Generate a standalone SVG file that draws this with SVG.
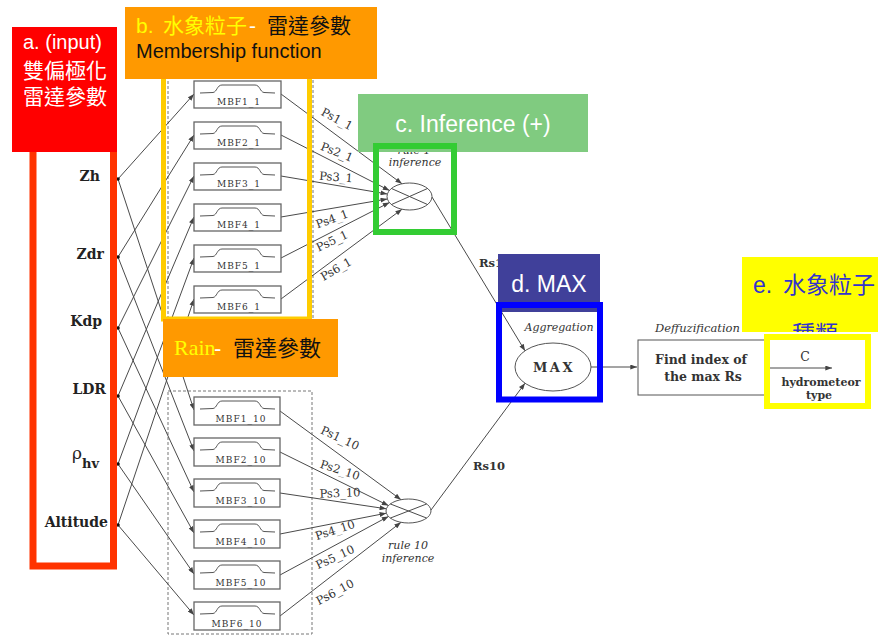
<svg xmlns="http://www.w3.org/2000/svg" width="884" height="636" viewBox="0 0 884 636">
  <style>
    .ln { stroke: #4a4a4a; stroke-width: 1; fill: none; }
    .ar { marker-end: url(#ah); }
    .mbf rect { fill: #fff; stroke: #666; stroke-width: 1.3; }
    .mbf text { font-family: "DejaVu Serif", serif; font-size: 9px; letter-spacing: 1px; fill: #333; text-anchor: middle; }
    .inp { font-family: "DejaVu Serif", serif; font-weight: bold; font-size: 14px; fill: #222; text-anchor: end; }
    .ps { font-family: "DejaVu Serif", serif; font-size: 11.5px; fill: #333; text-anchor: middle; }
    .it { font-family: "DejaVu Serif", serif; font-style: italic; font-size: 11px; fill: #333; text-anchor: middle; }
    .bd { font-family: "DejaVu Serif", serif; font-weight: bold; fill: #333; }
    .dash { fill: none; stroke: #777; stroke-width: 1; stroke-dasharray: 3 2; }
    .op { fill: #fff; stroke: #555; stroke-width: 1; }
    .ann { font-family: "Liberation Sans", "Noto Sans CJK TC", sans-serif; }
    .frame { fill: none; }
  </style>
  <defs>
    <marker id="ah" viewBox="0 0 8 6" refX="8" refY="3" markerWidth="7" markerHeight="5" orient="auto" markerUnits="userSpaceOnUse">
      <path d="M0,0 L8,3 L0,6 z" fill="#444"/>
    </marker>
    <!-- trapezoidal membership curve drawn inside each MBF box -->
    <path id="curve" d="M6,12 L19,11.5 C23,11 23,4 28,4 L61,4 C66,4 66,11 70,11.5 L81,12" fill="none" stroke="#555" stroke-width="1"/>
    <clipPath id="clipE"><rect x="742" y="257" width="136" height="75"/></clipPath>
  </defs>

  <rect width="884" height="636" fill="#fff"/>

  <!-- membership-function group frames -->
  <rect class="dash" x="168" y="70" width="145" height="252"/>
  <rect class="dash" x="168" y="391" width="144" height="243"/>

  <!-- connectors -->
  <g id="connectors">
    <!-- inputs to rule-1 membership functions -->
    <line class="ln ar" x1="118" y1="179" x2="194" y2="94"/>
    <line class="ln ar" x1="118" y1="257" x2="194" y2="135"/>
    <line class="ln ar" x1="118" y1="328" x2="194" y2="176"/>
    <line class="ln ar" x1="118" y1="396" x2="194" y2="217"/>
    <line class="ln ar" x1="118" y1="464" x2="194" y2="258"/>
    <line class="ln ar" x1="118" y1="525" x2="194" y2="299"/>
    <!-- inputs to rule-10 membership functions -->
    <line class="ln ar" x1="118" y1="179" x2="194" y2="410"/>
    <line class="ln ar" x1="118" y1="257" x2="194" y2="451"/>
    <line class="ln ar" x1="118" y1="328" x2="194" y2="492"/>
    <line class="ln ar" x1="118" y1="396" x2="194" y2="533"/>
    <line class="ln ar" x1="118" y1="464" x2="194" y2="574"/>
    <line class="ln ar" x1="118" y1="525" x2="194" y2="615"/>
    <!-- membership outputs to rule 1 -->
    <line class="ln ar" x1="281" y1="94" x2="402" y2="183.8"/>
    <line class="ln ar" x1="281" y1="135" x2="389.5" y2="190.5"/>
    <line class="ln ar" x1="281" y1="176" x2="387.3" y2="194"/>
    <line class="ln ar" x1="281" y1="217" x2="387.3" y2="199"/>
    <line class="ln ar" x1="281" y1="258" x2="389.5" y2="202.5"/>
    <line class="ln ar" x1="281" y1="299" x2="402" y2="209.2"/>
    <!-- membership outputs to rule 10 -->
    <line class="ln ar" x1="280" y1="411" x2="401" y2="499.7"/>
    <line class="ln ar" x1="280" y1="452" x2="388.5" y2="505.6"/>
    <line class="ln ar" x1="280" y1="493" x2="386.3" y2="508.8"/>
    <line class="ln ar" x1="280" y1="534" x2="386.3" y2="513.2"/>
    <line class="ln ar" x1="280" y1="575" x2="388.5" y2="516.4"/>
    <line class="ln ar" x1="280" y1="616" x2="401" y2="522.3"/>
    <!-- rule strengths to aggregation -->
    <line class="ln ar" x1="432" y1="197" x2="525" y2="350.8"/>
    <line class="ln ar" x1="431" y1="510" x2="525" y2="383.2"/>
    <!-- aggregation to defuzzification to output -->
    <line class="ln ar" x1="591" y1="367" x2="637" y2="367"/>
    <line class="ln ar" x1="770" y1="368" x2="832" y2="368"/>

    <!-- connector labels -->
    <g class="ps">
      <text transform="translate(337,119) rotate(28)" y="4">Ps1_1</text>
      <text transform="translate(337,152) rotate(22)" y="4">Ps2_1</text>
      <text transform="translate(336,177) rotate(4)" y="4">Ps3_1</text>
      <text transform="translate(332,219) rotate(-20)" y="4">Ps4_1</text>
      <text transform="translate(332,241) rotate(-25)" y="4">Ps5_1</text>
      <text transform="translate(336,269) rotate(-30)" y="4">Ps6_1</text>
      <text transform="translate(340,438) rotate(25)" y="4">Ps1_10</text>
      <text transform="translate(340,470) rotate(18)" y="4">Ps2_10</text>
      <text transform="translate(340,493) rotate(-2)" y="4">Ps3_10</text>
      <text transform="translate(335,530) rotate(-18)" y="4">Ps4_10</text>
      <text transform="translate(335,557) rotate(-25)" y="4">Ps5_10</text>
      <text transform="translate(335,592) rotate(-28)" y="4">Ps6_10</text>
    </g>
    <text class="bd" x="479" y="267" font-size="11.5">Rs1</text>
    <text class="bd" x="473" y="470" font-size="11.5">Rs10</text>
  </g>

  <!-- input variables -->
  <g id="inputs">
    <text class="inp" x="100" y="181">Zh</text>
    <text class="inp" x="104" y="259">Zdr</text>
    <text class="inp" x="102" y="326">Kdp</text>
    <text class="inp" x="106" y="394">LDR</text>
    <text x="72" y="459" font-family="DejaVu Serif, serif" font-size="17" fill="#222">ρ</text>
    <text x="82" y="468" font-family="DejaVu Serif, serif" font-weight="bold" font-size="13" fill="#222">hv</text>
    <text class="inp" x="108" y="527">Altitude</text>
    <g fill="#111">
      <circle cx="118" cy="179" r="1.8"/>
      <circle cx="118" cy="257" r="1.8"/>
      <circle cx="118" cy="328" r="1.8"/>
      <circle cx="118" cy="396" r="1.8"/>
      <circle cx="118" cy="464" r="1.8"/>
      <circle cx="118" cy="525" r="1.8"/>
    </g>
  </g>

  <!-- membership functions, rule 1 -->
  <g id="mbf1_1" class="mbf" transform="translate(194,81)"><rect width="87" height="27"/><use href="#curve"/><text x="45" y="24">MBF1_1</text></g>
  <g id="mbf2_1" class="mbf" transform="translate(194,122)"><rect width="87" height="27"/><use href="#curve"/><text x="45" y="24">MBF2_1</text></g>
  <g id="mbf3_1" class="mbf" transform="translate(194,163)"><rect width="87" height="27"/><use href="#curve"/><text x="45" y="24">MBF3_1</text></g>
  <g id="mbf4_1" class="mbf" transform="translate(194,204)"><rect width="87" height="27"/><use href="#curve"/><text x="45" y="24">MBF4_1</text></g>
  <g id="mbf5_1" class="mbf" transform="translate(194,245)"><rect width="87" height="27"/><use href="#curve"/><text x="45" y="24">MBF5_1</text></g>
  <g id="mbf6_1" class="mbf" transform="translate(194,286)"><rect width="87" height="27"/><use href="#curve"/><text x="45" y="24">MBF6_1</text></g>

  <!-- membership functions, rule 10 -->
  <g id="mbf1_10" class="mbf" transform="translate(194,397)"><rect width="86" height="28"/><use href="#curve"/><text x="47" y="25">MBF1_10</text></g>
  <g id="mbf2_10" class="mbf" transform="translate(194,438)"><rect width="86" height="28"/><use href="#curve"/><text x="47" y="25">MBF2_10</text></g>
  <g id="mbf3_10" class="mbf" transform="translate(194,479)"><rect width="86" height="28"/><use href="#curve"/><text x="47" y="25">MBF3_10</text></g>
  <g id="mbf4_10" class="mbf" transform="translate(194,520)"><rect width="86" height="28"/><use href="#curve"/><text x="47" y="25">MBF4_10</text></g>
  <g id="mbf5_10" class="mbf" transform="translate(194,561)"><rect width="86" height="28"/><use href="#curve"/><text x="47" y="25">MBF5_10</text></g>
  <g id="mbf6_10" class="mbf" transform="translate(194,602)"><rect width="86" height="28"/><use href="#curve"/><text x="43" y="25">MBF6_10</text></g>

  <!-- rule 1 inference -->
  <g id="rule1">
    <ellipse class="op" cx="409.5" cy="196.5" rx="22.5" ry="13.5"/>
    <line class="ln" x1="391.5" y1="188.5" x2="427.5" y2="204.5"/>
    <line class="ln" x1="391.5" y1="204.5" x2="427.5" y2="188.5"/>
    <text class="it" x="414" y="154">rule 1</text>
    <text class="it" x="415" y="166">inference</text>
  </g>

  <!-- rule 10 inference -->
  <g id="rule10">
    <ellipse class="op" cx="408.5" cy="511" rx="22.5" ry="12"/>
    <line class="ln" x1="390.5" y1="504" x2="426.5" y2="518"/>
    <line class="ln" x1="390.5" y1="518" x2="426.5" y2="504"/>
    <text class="it" x="408" y="549" font-size="10.5">rule 10</text>
    <text class="it" x="408" y="562" font-size="10.5">inference</text>
  </g>

  <!-- aggregation -->
  <g id="aggregation">
    <ellipse class="op" cx="553" cy="367" rx="38" ry="24"/>
    <text class="bd" x="554" y="372" font-size="13" letter-spacing="2.5" text-anchor="middle">MAX</text>
    <text class="it" x="559" y="331" font-size="11.5">Aggregation</text>
  </g>

  <!-- defuzzification -->
  <g id="defuzz">
    <rect x="638" y="340" width="130" height="55" fill="#fff" stroke="#555" stroke-width="1"/>
    <text class="bd" x="701" y="364" font-size="12.5" text-anchor="middle">Find index of</text>
    <text class="bd" x="703" y="381" font-size="12.5" text-anchor="middle">the max Rs</text>
    <text x="655" y="332" font-family="DejaVu Serif, serif" font-style="italic" font-size="11.5" fill="#333">Deffuzification</text>
  </g>

  <!-- output -->
  <g id="output">
    <text x="805" y="361" font-family="DejaVu Serif, serif" font-size="12.5" fill="#333" text-anchor="middle">C</text>
    <text class="bd" x="821" y="386" font-size="11" text-anchor="middle">hydrometeor</text>
    <text class="bd" x="819" y="399" font-size="11" text-anchor="middle">type</text>
  </g>

  <!-- a. input parameters -->
  <g id="label-a">
    <rect class="frame" x="33" y="140" width="80.5" height="426" stroke="#FF3300" stroke-width="7"/>
    <rect x="12" y="27" width="105" height="125" fill="#FF0000"/>
    <g class="ann" fill="#fff">
      <text x="23" y="49" font-size="20">a. (input)</text>
      <text x="23" y="78" font-size="21">雙偏極化</text>
      <text x="23" y="104" font-size="21">雷達參數</text>
    </g>
  </g>

  <!-- b. membership functions -->
  <g id="label-b">
    <rect class="frame" x="163.5" y="70" width="146" height="249" stroke="#FFCC00" stroke-width="5"/>
    <rect x="125" y="7" width="252" height="72" fill="#FF9900"/>
    <text class="ann" y="33" font-size="21"><tspan x="136" fill="#FFFF00">b.</tspan><tspan x="163" fill="#FFFF00">水象粒子</tspan><tspan x="249" fill="#fff">-</tspan><tspan x="267" fill="#111">雷達參數</tspan></text>
    <text class="ann" x="136" y="58" font-size="20" fill="#111">Membership function</text>
  </g>

  <!-- rain rule -->
  <g id="label-rain">
    <rect x="163" y="319" width="175" height="58" fill="#FF9900"/>
    <text x="174" y="355" font-family="Liberation Serif, serif" font-size="22" fill="#FFFF00">Rain</text>
    <text class="ann" y="356" font-size="22"><tspan x="214" fill="#fff">-</tspan><tspan x="233" fill="#111">雷達參數</tspan></text>
  </g>

  <!-- c. inference -->
  <g id="label-c">
    <rect x="358" y="94" width="230" height="58" fill="#80CB80"/>
    <text class="ann" x="473" y="132" font-size="23" fill="#fff" text-anchor="middle">c. Inference (+)</text>
    <rect class="frame" x="376" y="146" width="78" height="86" stroke="#33CC33" stroke-width="6"/>
  </g>

  <!-- d. aggregation -->
  <g id="label-d">
    <rect x="498" y="254" width="102" height="58" fill="#40409A"/>
    <text class="ann" x="549" y="292" font-size="23" fill="#fff" text-anchor="middle">d. MAX</text>
    <rect class="frame" x="499" y="305" width="101" height="94.5" stroke="#0000FF" stroke-width="6"/>
  </g>

  <!-- e. hydrometeor class -->
  <g id="label-e">
    <rect x="742" y="257" width="136" height="75" fill="#FFFF00"/>
    <g class="ann" fill="#3333CC" font-size="23" clip-path="url(#clipE)">
      <text y="293"><tspan x="753">e.</tspan><tspan x="783">水象粒子</tspan></text>
      <text x="792" y="342">種類</text>
    </g>
    <rect class="frame" x="767" y="337" width="101" height="69" stroke="#FFFF00" stroke-width="6"/>
  </g>
</svg>
